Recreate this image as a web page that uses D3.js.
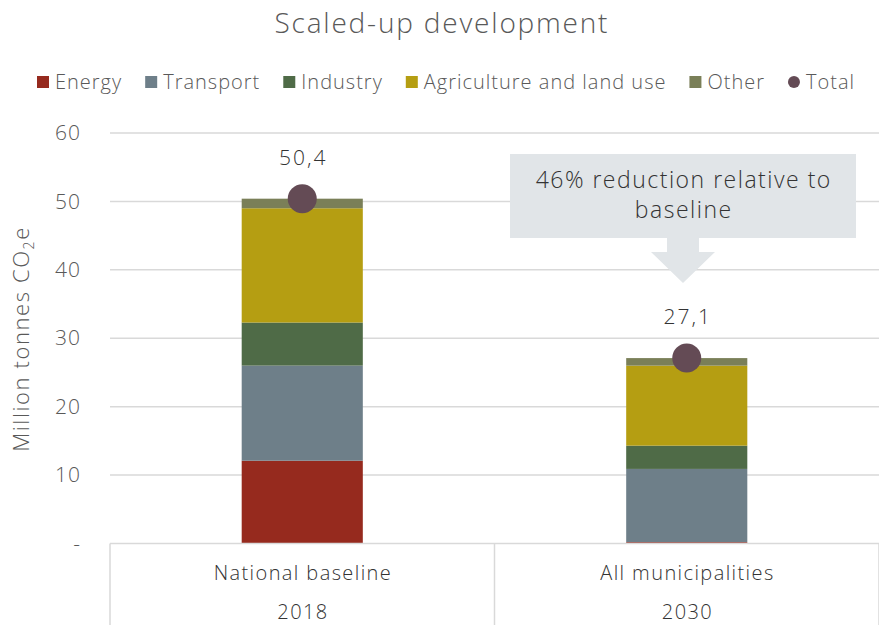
<!DOCTYPE html>
<html>
<head>
<meta charset="utf-8">
<script src="https://cdn.jsdelivr.net/npm/d3@7"></script>
<style>
  html, body { margin: 0; padding: 0; background: #fff; }
  svg { display: block; font-family: "Open Sans", Lato, sans-serif; font-weight: 300; }
</style>
</head>
<body>
<svg id="chart" width="879" height="625"></svg>
<script>
// Emission categories and their values (million tonnes CO2e)
const categories = ["National baseline", "All municipalities"];
const years = ["2018", "2030"];
const sectors = ["Energy", "Transport", "Industry", "Agriculture and land use", "Other"];
const energy = [12.1, 0.2];
const transport = [13.9, 10.7];
const industry = [6.3, 3.4];
const agriculture = [16.7, 11.7];
const other = [1.4, 1.1];
const totals = [50.4, 27.1];
const yTicks = [0, 10, 20, 30, 40, 50, 60];
const totalLabels = ["50,4", "27,1"];
const annotationLines = ["46% reduction relative to", "baseline"];

const colors = {
  "Energy": "#962a1e",
  "Transport": "#6e7f89",
  "Industry": "#4f6b47",
  "Agriculture and land use": "#b59e12",
  "Other": "#7a7f58"
};
const totalColor = "#644b55";
const textColor = "#595959";

const svg = d3.select("#chart");
const W = 879, H = 625;
const plot = { left: 110, right: 879, top: 133, bottom: 543.5 };

const rows = categories.map((c, i) => ({
  category: c,
  "Energy": energy[i],
  "Transport": transport[i],
  "Industry": industry[i],
  "Agriculture and land use": agriculture[i],
  "Other": other[i],
  total: totals[i],
  label: totalLabels[i]
}));

const x = d3.scaleBand().domain(categories).range([plot.left, plot.right]).padding(0);
const barW = x.bandwidth() * 0.315;
const y = d3.scaleLinear().domain([0, 60]).range([plot.bottom, plot.top]);

// Centered text helper: compensates the trailing letter-spacing
function centered(sel, spacing) {
  return sel.attr("text-anchor", "middle").attr("letter-spacing", spacing)
    .attr("dx", spacing / 2);
}

// Title
centered(svg.append("text"), 1.8)
  .attr("x", 441).attr("y", 33)
  .attr("font-size", 28).attr("fill", textColor)
  .text("Scaled-up development");

// Gridlines
svg.append("g").selectAll("line")
  .data(yTicks.filter(t => t > 0))
  .join("line")
  .attr("x1", plot.left).attr("x2", plot.right)
  .attr("y1", d => y(d)).attr("y2", d => y(d))
  .attr("stroke", "#d9d9d9").attr("stroke-width", 1.5);

// Y axis tick labels
const yAxis = d3.axisLeft(y).tickValues(yTicks)
  .tickFormat(d => d === 0 ? "-" : d).tickSize(0).tickPadding(0);
const gy = svg.append("g").attr("transform", `translate(80,0)`).call(yAxis);
gy.select(".domain").remove();
gy.selectAll("text")
  .attr("font-size", 21).attr("fill", textColor)
  .attr("letter-spacing", 1).attr("dx", 1)
  .attr("font-family", "'Open Sans', sans-serif");

// Y axis title
const yt = svg.append("text")
  .attr("transform", `translate(29,${(225 + 453) / 2}) rotate(-90)`)
  .attr("text-anchor", "middle")
  .attr("letter-spacing", 1.6)
  .attr("font-size", 22).attr("fill", textColor);
yt.append("tspan").text("Million tonnes CO");
yt.append("tspan").attr("font-size", 14).attr("dy", 5).text("2");
yt.append("tspan").attr("dy", -5).text("e");

// Stacked bars
const stack = d3.stack().keys(sectors);
const series = stack(rows);
svg.append("g").selectAll("g")
  .data(series)
  .join("g")
  .attr("fill", d => colors[d.key])
  .selectAll("rect")
  .data(d => d)
  .join("rect")
  .attr("x", d => x(d.data.category) + (x.bandwidth() - barW) / 2)
  .attr("width", barW)
  .attr("y", d => y(d[1]))
  .attr("height", d => y(d[0]) - y(d[1]));

// Category axis box
const axisG = svg.append("g").attr("stroke", "#d9d9d9").attr("stroke-width", 1.5);
axisG.append("line").attr("x1", plot.left).attr("x2", plot.right)
  .attr("y1", plot.bottom).attr("y2", plot.bottom);
const dividers = [plot.left, ...categories.map(c => x(c) + x.bandwidth())];
axisG.selectAll("line.div").data(dividers).join("line").attr("class", "div")
  .attr("x1", d => d).attr("x2", d => d)
  .attr("y1", plot.bottom).attr("y2", H);

centered(svg.append("g").selectAll("text").data(categories).join("text"), 1.4)
  .attr("x", d => x(d) + x.bandwidth() / 2).attr("y", 580)
  .attr("font-size", 20).attr("fill", "#333")
  .text(d => d);
centered(svg.append("g").selectAll("text").data(years).join("text"), 1.4)
  .attr("x", (d, i) => x(categories[i]) + x.bandwidth() / 2).attr("y", 619)
  .attr("font-size", 20).attr("fill", "#333")
  .text(d => d);

// Total markers and labels
const cx = d => x(d.category) + x.bandwidth() / 2;
svg.append("g").selectAll("circle").data(rows).join("circle")
  .attr("cx", cx).attr("cy", d => y(d.total))
  .attr("r", 14.5).attr("fill", totalColor);
centered(svg.append("g").selectAll("text").data(rows).join("text"), 2)
  .attr("x", cx).attr("y", d => y(d.total) - 34)
  .attr("font-size", 21).attr("fill", "#333")
  .text(d => d.label);

// Reduction callout
const callout = svg.append("g");
const calloutPath = d3.path();
calloutPath.moveTo(510, 154);
calloutPath.lineTo(856, 154);
calloutPath.lineTo(856, 238);
calloutPath.lineTo(699, 238);
calloutPath.lineTo(699, 252);
calloutPath.lineTo(715, 252);
calloutPath.lineTo(683, 283);
calloutPath.lineTo(651, 252);
calloutPath.lineTo(667, 252);
calloutPath.lineTo(667, 238);
calloutPath.lineTo(510, 238);
calloutPath.closePath();
callout.append("path").attr("d", calloutPath.toString()).attr("fill", "#e1e5e8");
centered(callout.selectAll("text").data(annotationLines).join("text"), 1.5)
  .attr("x", 683).attr("y", (d, i) => 188 + i * 30)
  .attr("font-size", 23).attr("fill", "#333")
  .text(d => d);

// Legend
const legendItems = sectors.map(s => ({ name: s, color: colors[s], shape: "rect" }))
  .concat([{ name: "Total", color: totalColor, shape: "circle" }]);
const legend = svg.append("g");
const lg = legend.selectAll("g").data(legendItems).join("g");
lg.append("text").attr("x", 18).attr("y", 89)
  .attr("font-size", 20).attr("fill", textColor)
  .attr("letter-spacing", 1)
  .text(d => d.name);
lg.each(function(d) {
  const g = d3.select(this);
  if (d.shape === "rect") {
    g.append("rect").attr("x", 0).attr("y", 76).attr("width", 12).attr("height", 12).attr("fill", d.color);
  } else {
    g.append("circle").attr("cx", 6).attr("cy", 82).attr("r", 6).attr("fill", d.color);
  }
});
// Spread the legend items across the same span as the chart header
const legendLeft = 37, legendRight = 855;
const widths = [];
lg.each(function() { widths.push(this.querySelector("text").getComputedTextLength()); });
const used = d3.sum(widths) + widths.length * 18;
const gap = (legendRight - legendLeft - used) / (widths.length - 1);
let lx = legendLeft;
lg.attr("transform", (d, i) => {
  const t = `translate(${lx},0)`;
  lx += 18 + widths[i] + gap;
  return t;
});
</script>
</body>
</html>
